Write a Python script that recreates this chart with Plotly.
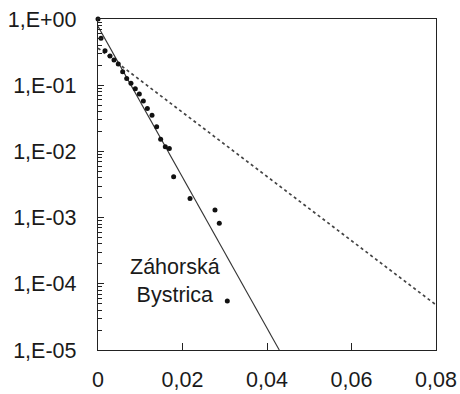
import plotly.graph_objects as go

# Measured relative values (x vs. normalised value, log scale)
obs_x = [0.0, 0.00071, 0.00166, 0.00284, 0.00379, 0.0048, 0.00584, 0.00679,
         0.0078, 0.00883, 0.00978, 0.01073, 0.01168, 0.01278, 0.01388,
         0.01483, 0.01593, 0.01688, 0.0179, 0.02178, 0.02769, 0.02871, 0.0306]
obs_y = [1.0, 0.51, 0.33, 0.276, 0.24, 0.209, 0.16, 0.126,
         0.107, 0.0885, 0.0736, 0.0577, 0.0443, 0.0351, 0.0236,
         0.0152, 0.0118, 0.0111, 0.00415, 0.00195, 0.0013, 0.00082, 5.5e-5]

# Fitted exponential (solid) and reference exponential (dashed)
fit_x = [0.0, 0.0429]
fit_y = [0.776, 1e-5]
ref_x = [0.0, 0.08]
ref_y = [0.363, 4.8e-5]

x_ticks = [0, 0.02, 0.04, 0.06, 0.08]
x_labels = ["0", "0,02", "0,04", "0,06", "0,08"]
y_ticks = [1, 1e-1, 1e-2, 1e-3, 1e-4, 1e-5]
y_labels = ["1,E+00", "1,E-01", "1,E-02", "1,E-03", "1,E-04", "1,E-05"]

site_label = "Záhorská<br>Bystrica"

FONT = "Liberation Sans, Arial, sans-serif"
TXT = "#1a1a1a"

fig = go.Figure()
fig.add_trace(go.Scatter(x=ref_x, y=ref_y, mode="lines",
                         line=dict(color="#444444", width=1.7, dash="3px,3px")))
fig.add_trace(go.Scatter(x=fit_x, y=fit_y, mode="lines",
                         line=dict(color="#333333", width=1.1)))
fig.add_trace(go.Scatter(x=obs_x, y=obs_y, mode="markers",
                         marker=dict(color="#111111", size=5), cliponaxis=False))

fig.add_annotation(x=0.01834, y=-3.958, xref="x", yref="y", text=site_label,
                   showarrow=False, xanchor="center", yanchor="middle",
                   font=dict(family=FONT, size=21.5, color=TXT))

fig.update_layout(
    width=460, height=394,
    margin=dict(l=98, r=24, t=19, b=44, autoexpand=False),
    paper_bgcolor="white", plot_bgcolor="white",
    showlegend=False,
    font=dict(family=FONT, size=21.5, color=TXT),
)
fig.update_xaxes(range=[0, 0.08], tickvals=x_ticks, ticktext=x_labels,
                 ticks="inside", ticklen=7, tickwidth=1, tickcolor="#222",
                 showline=True, linecolor="#222", linewidth=1.4, mirror=True,
                 showgrid=False, zeroline=False, ticklabelstandoff=10,
                 automargin=False)
fig.update_yaxes(type="log", range=[-5, 0], tickvals=y_ticks, ticktext=y_labels,
                 ticks="inside", ticklen=6, tickwidth=1, tickcolor="#222",
                 minor=dict(ticks="inside", ticklen=4, tickwidth=1, tickcolor="#222",
                            showgrid=False, dtick="D1"),
                 showline=True, linecolor="#222", linewidth=1.4, mirror=True,
                 showgrid=False, zeroline=False, ticklabelstandoff=16,
                 automargin=False)

fig.write_html("out.html")
